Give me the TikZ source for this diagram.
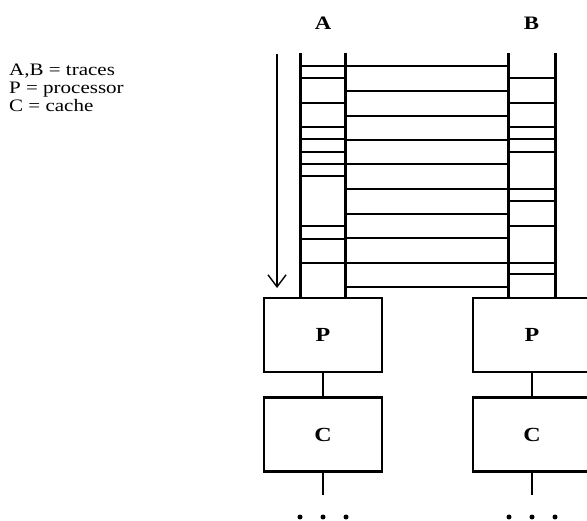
\documentclass[tikz,border=0pt]{standalone}
\usepackage{fontspec}
\setmainfont{Liberation Serif}
\newfontfamily\widefont[FakeStretch=1.2]{Liberation Serif}
\usetikzlibrary{positioning,arrows.meta}

\tikzset{
  unit/.style={draw, line width=2.3pt, minimum width=118pt, minimum height=74pt,
    inner sep=0pt, font=\widefont\fontsize{20}{24}\selectfont\bfseries},
  rail/.style={line width=3pt},
  rung/.style={line width=1.6pt},
  link/.style={line width=2.3pt},
  dot/.style={circle, fill, inner sep=0pt, minimum size=5pt},
  trace/.style={font=\widefont\fontsize{19}{24}\selectfont\bfseries},
  key/.style={anchor=base west, inner sep=0pt, font=\widefont\fontsize{17.5}{20}\selectfont}
}

\begin{document}
\begin{tikzpicture}[x=1pt,y=-1pt]
    \useasboundingbox (0,0) rectangle (587,521);

    % legend
    \node[key] (keyAB) at (9,76) {A,B = traces};
    \node[key] (keyP) at (9,94) {P = processor};
    \node[key] (keyC) at (9,112) {C = cache};

    % trace names
    \node[trace] (nameA) at (323,23) {A};
    \node[trace] (nameB) at (531.5,23) {B};

    % processors and caches
    \node[unit] (pA) at (323,335) {P};
    \node[unit] (cA) at (323,434.5) {C};
    \node[unit] (pB) at (532,335) {P};
    \node[unit] (cB) at (532,434.5) {C};
    \draw[link] (pA) -- (cA);
    \draw[link] (pB) -- (cB);
    \coordinate (endA) at (323,495);
    \coordinate (endB) at (532,495);
    \draw[link] (cA.south) -- (endA);
    \draw[link] (cB.south) -- (endB);
    \foreach \x in {-23,0,23} {
        \node[dot] at ([xshift=\x pt, yshift=-22pt]endA) {};
        \node[dot] at ([xshift=\x pt, yshift=-22pt]endB) {};
    }

    % rails of the two traces
    \coordinate (aL) at (300,53);
    \coordinate (aR) at (345,53);
    \coordinate (bL) at (508,53);
    \coordinate (bR) at (555,53);
    \foreach \r in {aL,aR,bL,bR}
        \draw[rail] (\r) -- (\r |- pA.north);

    % rungs
    \foreach \y in {66,78,103,127,139,152,164,176,226,239,263}
        \draw[rung] (aL |- 0,\y) -- (aR |- 0,\y);
    \foreach \y in {66,91,116,140,164,189,214,238,263,287}
        \draw[rung] (aR |- 0,\y) -- (bL |- 0,\y);
    \foreach \y in {78,103,127,139,152,189,201,226,263,274}
        \draw[rung] (bL |- 0,\y) -- (bR |- 0,\y);

    % time runs downwards
    \coordinate (tTop) at (277,54);
    \coordinate (tEnd) at (277,288);
    \draw[line width=1.4pt, -{Straight Barb[length=12pt,width=18pt,line width=1.4pt]}]
        (tTop) -- (tEnd);
\end{tikzpicture}
\end{document}
